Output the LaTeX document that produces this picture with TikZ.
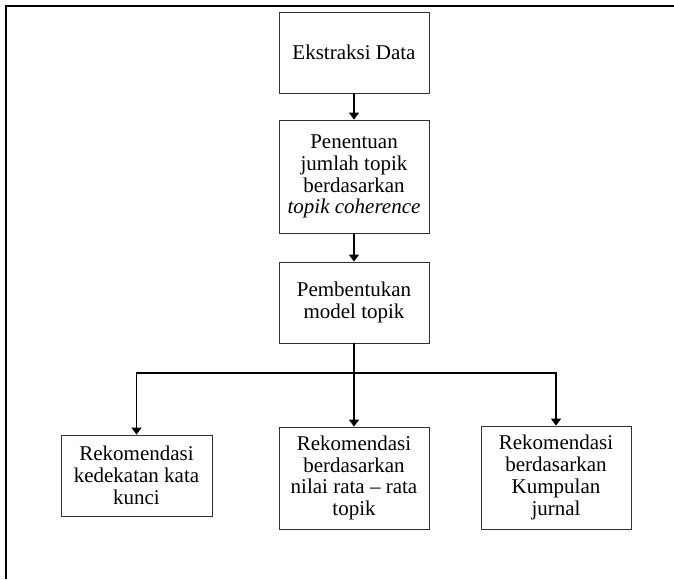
\documentclass[tikz,border=0pt]{standalone}
\usepackage{fontspec}
\setmainfont{Liberation Serif}
\usetikzlibrary{arrows.meta}

\begin{document}
\begin{tikzpicture}[x=1pt, y=-1pt, every node/.style={rectangle, draw=black!80, line width=0.8pt, align=center, inner sep=0pt, minimum width=150pt, font=\fontsize{21}{21.8}\selectfont}, arrow/.style={-{Triangle[width=10pt,length=7pt]}, line width=1.2pt}]
  \useasboundingbox (0,0) rectangle (674,579);
  \draw[line width=2pt] (6,579) -- (6,6) -- (674,6);
  \node[minimum height=81pt] (ekstraksi) at (354,52.5) {Ekstraksi Data};
  \node[minimum height=113pt] (penentuan) at (354,176.5) {Penentuan\\jumlah topik\\berdasarkan\\\textit{topik coherence}};
  \node[minimum height=81pt] (pembentukan) at (354,302.5) {Pembentukan\\model topik};
  \node[minimum height=81pt, minimum width=151pt] (rekkata) at (136.5,475.5) {Rekomendasi\\kedekatan kata\\kunci};
  \node[minimum height=102pt] (rekrata) at (354,478) {Rekomendasi\\berdasarkan\\nilai rata -- rata\\topik};
  \node[minimum height=103pt] (rekjurnal) at (556,477.5) {Rekomendasi\\berdasarkan\\Kumpulan\\jurnal};
  \coordinate (cabang) at (354,373);
  \draw[arrow] (ekstraksi) -- (penentuan);
  \draw[arrow] (penentuan) -- (pembentukan);
  \draw[line width=1.2pt] (pembentukan) -- (cabang);
  \draw[arrow] (cabang) -| (rekkata);
  \draw[arrow] (cabang) -- (rekrata);
  \draw[arrow] (cabang) -| (rekjurnal);
\end{tikzpicture}
\end{document}
